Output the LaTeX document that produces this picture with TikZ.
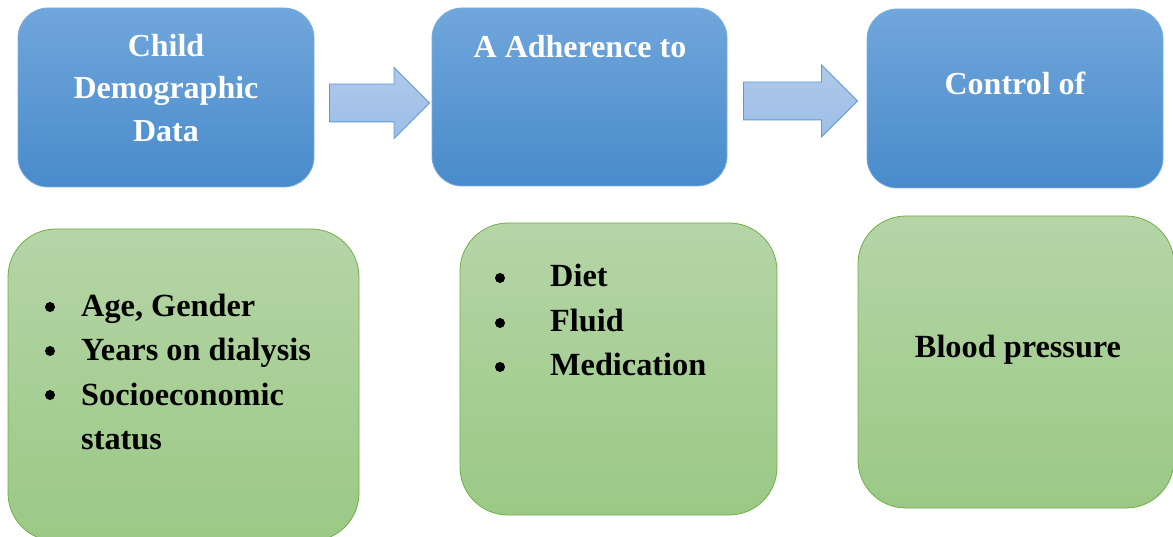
\documentclass[tikz,border=0pt]{standalone}
\usepackage{fontspec}
\setmainfont{Liberation Serif}
\usetikzlibrary{shapes.arrows}
\definecolor{bluetop}{HTML}{70A6DB}
\definecolor{bluebot}{HTML}{498BCB}
\definecolor{blueedge}{HTML}{7AAEE0}
\definecolor{greentop}{HTML}{B5D5A7}
\definecolor{greenbot}{HTML}{9BC985}
\definecolor{greenedge}{HTML}{70AD47}
\definecolor{arrtop}{HTML}{AFC9EA}
\definecolor{arrbot}{HTML}{9DBEE6}
\definecolor{arredge}{HTML}{5B9BD5}
\tikzset{
  bluebox/.style={draw=blueedge, line width=0.8pt, rounded corners=30pt, top color=bluetop, bottom color=bluebot, inner sep=0pt},
  greenbox/.style={draw=greenedge, line width=0.8pt, rounded corners=48pt, top color=greentop, bottom color=greenbot, inner sep=0pt},
  blockarrow/.style={single arrow, draw=arredge, line width=0.8pt, top color=arrtop, bottom color=arrbot, inner xsep=0pt, inner ysep=18.5pt, single arrow head extend=16.5pt, single arrow tip angle=90, anchor=tip},
  wtxt/.style={text=white, font=\fontsize{32}{38}\selectfont\bfseries, inner sep=0pt, anchor=base},
  btxt/.style={text=black, font=\fontsize{32.3}{38}\selectfont\bfseries, inner sep=0pt, anchor=base west},
  bul/.style={circle, fill=black, inner sep=0pt, minimum size=10pt},
  ctxt/.style={text=black, font=\fontsize{32.3}{38}\selectfont\bfseries, inner sep=0pt, anchor=base},
}
\begin{document}
\begin{tikzpicture}[x=1pt,y=-1pt]
\useasboundingbox (0,0) rectangle (1173,537);
% blue boxes
\path[bluebox] (18,8) rectangle (314,187) node[pos=.5, coordinate] (b1) {};
\path[bluebox] (432,8) rectangle (727,186) node[pos=.5, coordinate] (b2) {};
\path[bluebox] (867,9) rectangle (1163,188) node[pos=.5, coordinate] (b3) {};
% green boxes
\path[greenbox] (8,229) rectangle (359,541) node[pos=.5, coordinate] (g1) {};
\path[greenbox] (460,223) rectangle (777,515) node[pos=.5, coordinate] (g2) {};
\path[greenbox] (858,216) rectangle (1174,508) node[pos=.5, coordinate] (g3) {};
% block arrows
\node[blockarrow, minimum height=100pt] (a1) at (430,103) {};
\node[blockarrow, minimum height=114pt, single arrow head extend=17pt] (a2) at (858,101) {};
% blue box texts
\node[wtxt] (t1a) at (166,57) {Child};
\node[wtxt] (t1b) at (166,99) {Demographic};
\node[wtxt] (t1c) at (166,142) {Data};
\node[wtxt] (t2) at (580,58) {A Adherence to};
\node[wtxt] (t3) at (1015,95) {Control of};
% green box 1
\node[bul] (p1) at (50,307) {};
\node[bul] (p2) at (50,351) {};
\node[bul] (p3) at (50,395) {};
\node[btxt] (l1) at (81,317) {Age, Gender};
\node[btxt] (l2) at (81,361) {Years on dialysis};
\node[btxt] (l3) at (81,405) {Socioeconomic};
\node[btxt] (l4) at (81,449) {status};
% green box 2
\node[bul] (q1) at (500,278) {};
\node[bul] (q2) at (500,323) {};
\node[bul] (q3) at (500,367) {};
\node[btxt] (m1) at (550,287) {Diet};
\node[btxt] (m2) at (550,332) {Fluid};
\node[btxt] (m3) at (550,376) {Medication};
% green box 3
\node[ctxt] (bp) at (1018,358) {Blood pressure};
\end{tikzpicture}
\end{document}
